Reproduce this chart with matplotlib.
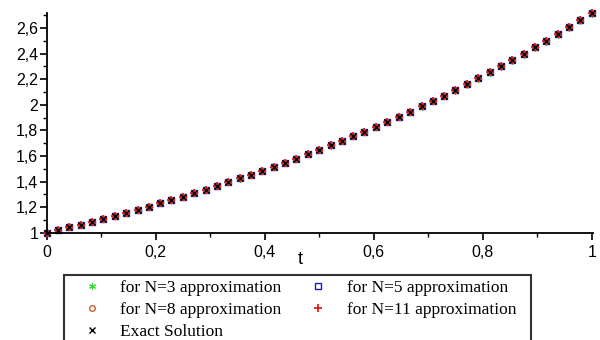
import matplotlib
matplotlib.use('Agg')
import matplotlib.pyplot as plt
from matplotlib.patches import Rectangle
from matplotlib.ticker import MultipleLocator, FuncFormatter

# 時刻 t
t = [0.000, 0.021, 0.042, 0.063, 0.083, 0.104, 0.125, 0.146, 0.167, 0.188,
     0.208, 0.229, 0.250, 0.271, 0.292, 0.313, 0.333, 0.354, 0.375, 0.396,
     0.417, 0.438, 0.458, 0.479, 0.500, 0.521, 0.542, 0.563, 0.583, 0.604,
     0.625, 0.646, 0.667, 0.688, 0.708, 0.729, 0.750, 0.771, 0.792, 0.813,
     0.833, 0.854, 0.875, 0.896, 0.917, 0.938, 0.958, 0.979, 1.000]

# 厳密解
y_exact = [1.000, 1.021, 1.043, 1.064, 1.087, 1.110, 1.133, 1.157, 1.181, 1.206,
           1.232, 1.258, 1.284, 1.311, 1.339, 1.367, 1.396, 1.425, 1.455, 1.486,
           1.517, 1.549, 1.581, 1.615, 1.649, 1.683, 1.719, 1.755, 1.792, 1.830,
           1.868, 1.908, 1.948, 1.989, 2.031, 2.073, 2.117, 2.162, 2.207, 2.254,
           2.301, 2.349, 2.399, 2.449, 2.501, 2.554, 2.607, 2.662, 2.718]

# 近似解（図では厳密解とほぼ重なる）
y_n3 = [1.000, 1.021, 1.043, 1.064, 1.087, 1.110, 1.133, 1.157, 1.181, 1.206,
        1.232, 1.257, 1.284, 1.311, 1.338, 1.366, 1.395, 1.424, 1.454, 1.485,
        1.516, 1.548, 1.580, 1.613, 1.647, 1.681, 1.717, 1.753, 1.790, 1.827,
        1.865, 1.905, 1.945, 1.985, 2.027, 2.069, 2.112, 2.157, 2.202, 2.248,
        2.295, 2.343, 2.392, 2.442, 2.493, 2.545, 2.598, 2.652, 2.707]
y_n5 = y_exact
y_n8 = y_exact
y_n11 = y_exact

yticks = [1, 1.2, 1.4, 1.6, 1.8, 2, 2.2, 2.4, 2.6]
xticks = [0, 0.2, 0.4, 0.6, 0.8, 1]

fig = plt.figure(figsize=(6, 3.4), dpi=100)
ax = fig.add_axes([0.0775, 0.315, 0.9105, 0.647])

h3, = ax.plot(t, y_n3, ls='none', marker=(6, 2, 0), ms=5, color='#33dd33', mew=0.8,
              label='for N=3 approximation', clip_on=False)
h5, = ax.plot(t, y_n5, ls='none', marker='s', ms=4.5, mfc='none', mec='#1a1acc', mew=1.0,
              label='for N=5 approximation', clip_on=False)
h8, = ax.plot(t, y_n8, ls='none', marker='o', ms=4, mfc='none', mec='#c8602a', mew=1.0,
              label='for N=8 approximation', clip_on=False)
h11, = ax.plot(t, y_n11, ls='none', marker='+', ms=5.5, color='#dd1111', mew=1.2,
               label='for N=11 approximation', clip_on=False)
hx, = ax.plot(t, y_exact, ls='none', marker='x', ms=4.5, color='black', mew=1.0,
              label='Exact Solution', clip_on=False)

ax.set_xlim(0, 1.002)
ax.set_ylim(1, 2.7183)
ax.spines['top'].set_visible(False)
ax.spines['right'].set_visible(False)
ax.spines['left'].set_linewidth(1.3)
ax.spines['bottom'].set_linewidth(1.3)

ax.set_xticks(xticks)
ax.set_yticks(yticks)
ax.xaxis.set_minor_locator(MultipleLocator(0.1))
ax.yaxis.set_minor_locator(MultipleLocator(0.1))
fmt = FuncFormatter(lambda v, p: ('%g' % round(v, 2)).replace('.', ','))
ax.xaxis.set_major_formatter(fmt)
ax.yaxis.set_major_formatter(fmt)
ax.tick_params(which='major', length=5, width=1.2, labelsize=11.5)
ax.tick_params(axis='x', which='major', pad=4)
ax.tick_params(axis='y', which='major', pad=1)
ax.tick_params(which='minor', length=3, width=1.0)
for lab in ax.get_xticklabels() + ax.get_yticklabels():
    lab.set_family('Liberation Sans')

fig.text(0.5, 1 - 260 / 340, 't', family='Liberation Sans', fontsize=13,
         ha='center', va='center')

# 凡例（行ごとの並び）
leg = fig.legend([h3, h8, hx, h5, h11],
                 [h.get_label() for h in (h3, h8, hx, h5, h11)],
                 loc='upper left', bbox_to_anchor=(0.1067, 0.191), ncol=2,
                 prop={'family': 'Liberation Serif', 'size': 12.5},
                 frameon=False, borderpad=0.3, labelspacing=0.32,
                 handlelength=2.6, handletextpad=0.35, columnspacing=0.8,
                 borderaxespad=0)
fig.patches.append(Rectangle((64 / 600, -0.05), 467 / 600, 0.05 + 65 / 340,
                             transform=fig.transFigure, fill=False,
                             edgecolor='#333333', linewidth=1.5))

fig.savefig('out.png', dpi=100)
